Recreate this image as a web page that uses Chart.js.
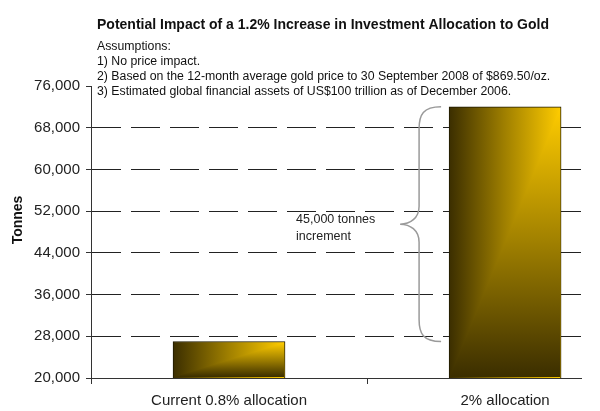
<!DOCTYPE html>
<html>
<head>
<meta charset="utf-8">
<script src="https://cdn.jsdelivr.net/npm/chart.js@4.4.1/dist/chart.umd.min.js"></script>
<style>
    html, body { margin: 0; padding: 0; background: #fff; }
    #wrap { width: 600px; height: 411px; }
</style>
</head>
<body>
<div id="wrap"><canvas id="goldChart"></canvas></div>
<script>
// data
const categories = ["Current 0.8% allocation", "2% allocation"]
const tonnes = [27000, 72000]
const yTicks = [20000, 28000, 36000, 44000, 52000, 60000, 68000, 76000]
const chartTitle = "Potential Impact of a 1.2% Increase in Investment Allocation to Gold"
const assumptions = [
    "Assumptions:",
    "1) No price impact.",
    "2) Based on the 12-month average gold price to 30 September 2008 of $869.50/oz.",
    "3) Estimated global financial assets of US$100 trillion as of December 2006."
]
const braceLabel = ["45,000 tonnes", "increment"]
const yTitle = "Tonnes"

const FONT = '"Liberation Sans", Arial, sans-serif'
const BAR_W = 112
const GOLD = ["#ffcc00", "#a08000", "#3b2e00"]
const NONE = "rgba(0,0,0,0)"

function goldStops(g) {
    g.addColorStop(0, GOLD[0])
    g.addColorStop(0.5, GOLD[1])
    g.addColorStop(1, GOLD[2])
    return g
}

// horizontal part of the corner gradient (bright at the right edge)
function barFill(context) {
    const chart = context.chart
    const xs = chart.scales.x
    if (!xs || context.dataIndex === undefined) return GOLD[1]
    const cx = xs.getPixelForValue(context.dataIndex + 0.5)
    if (!isFinite(cx)) return GOLD[1]
    return goldStops(chart.ctx.createLinearGradient(cx + BAR_W / 2, 0, cx - BAR_W / 2, 0))
}

function tickValue(ctx) {
    return ctx && ctx.tick ? ctx.tick.value : undefined
}

// lower right triangle gets the vertical part, so the fill looks like
// a rectangular gradient running out from the top right corner
const cornerShade = {
    id: "cornerShade",
    afterDatasetsDraw(chart) {
        const { ctx, chartArea } = chart
        chart.getDatasetMeta(0).data.forEach(bar => {
            const left = bar.x - bar.width / 2 + 1
            const right = bar.x + bar.width / 2 - 1
            const top = bar.y + 1
            const bottom = Math.min(bar.base, chartArea.bottom) - 1
            ctx.save()
            ctx.fillStyle = goldStops(ctx.createLinearGradient(0, top, 0, bottom))
            ctx.beginPath()
            ctx.moveTo(right, top)
            ctx.lineTo(right, bottom)
            ctx.lineTo(left, bottom)
            ctx.closePath()
            ctx.fill()
            ctx.restore()
        })
    }
}

const decorations = {
    id: "decorations",
    afterDraw(chart) {
        const { ctx } = chart
        ctx.save()
        ctx.fillStyle = "#111"
        ctx.textAlign = "left"
        ctx.textBaseline = "alphabetic"
        ctx.font = "bold 14px " + FONT
        ctx.fillText(chartTitle, 97, 29)
        ctx.font = "12.3px " + FONT
        assumptions.forEach((line, i) => ctx.fillText(line, 97, 49.5 + i * 15.3))

        // axis title
        ctx.save()
        ctx.translate(18, 220)
        ctx.rotate(-Math.PI / 2)
        ctx.textAlign = "center"
        ctx.textBaseline = "middle"
        ctx.font = "bold 14px " + FONT
        ctx.fillText(yTitle, 0, 0)
        ctx.restore()

        // brace between the two bar tops
        const bars = chart.getDatasetMeta(0).data
        const y0 = bars[1].y
        const y1 = bars[0].y
        const ym = (y0 + y1) / 2
        const barLeft = bars[1].x - bars[1].width / 2
        const ex = barLeft - 8
        const sx = barLeft - 30
        const tx = barLeft - 49
        ctx.strokeStyle = "#9a9a9a"
        ctx.lineWidth = 1.5
        ctx.beginPath()
        ctx.moveTo(ex, y0)
        ctx.bezierCurveTo(sx + 4, y0, sx, y0 + 8, sx, y0 + 22)
        ctx.lineTo(sx, ym - 18)
        ctx.bezierCurveTo(sx, ym - 6, tx + 10, ym, tx, ym)
        ctx.bezierCurveTo(tx + 10, ym, sx, ym + 6, sx, ym + 18)
        ctx.lineTo(sx, y1 - 22)
        ctx.bezierCurveTo(sx, y1 - 8, sx + 4, y1, ex, y1)
        ctx.stroke()

        ctx.fillStyle = "#222"
        ctx.font = "12.5px " + FONT
        ctx.fillText(braceLabel[0], tx - 104, ym - 1)
        ctx.fillText(braceLabel[1], tx - 104, ym + 16)
        ctx.restore()
    }
}

new Chart(document.getElementById("goldChart"), {
    type: "bar",
    data: {
        datasets: [
            {
                label: "Tonnes",
                data: tonnes.map((v, i) => ({ x: i + 0.5, y: v })),
                backgroundColor: barFill,
                borderColor: "#1e1800",
                borderWidth: 1,
                barThickness: BAR_W
            }
        ]
    },
    options: {
        responsive: true,
        maintainAspectRatio: false,
        animation: false,
        layout: { padding: { top: 86, right: 19, left: 0, bottom: 0 } },
        plugins: {
            legend: { display: false },
            title: { display: false },
            tooltip: { enabled: false }
        },
        scales: {
            x: {
                type: "linear",
                offset: false,
                min: 0,
                max: 1.775,
                afterBuildTicks: scale => {
                    scale.ticks = [0, 0.5, 1, 1.5].map(v => ({ value: v }))
                },
                afterFit: scale => { scale.height = 33 },
                ticks: {
                    autoSkip: false,
                    maxRotation: 0,
                    padding: 8,
                    color: "#222",
                    font: { family: FONT, size: 15 },
                    callback: value => Number.isInteger(value) ? "" : categories[Math.floor(value)]
                },
                grid: {
                    offset: false,
                    drawOnChartArea: false,
                    tickLength: 6,
                    tickColor: ctx => {
                        const v = tickValue(ctx)
                        return v !== undefined && Number.isInteger(v) ? "#333" : NONE
                    }
                },
                border: { color: "#333", width: 1 }
            },
            y: {
                min: yTicks[0],
                max: yTicks[yTicks.length - 1],
                afterBuildTicks: scale => {
                    scale.ticks = yTicks.map(v => ({ value: v }))
                },
                afterFit: scale => { scale.width = 91 },
                ticks: {
                    padding: 6,
                    color: "#222",
                    font: { family: FONT, size: 15 },
                    callback: value => value.toLocaleString("en-US")
                },
                grid: {
                    tickLength: 5,
                    tickColor: "#333",
                    color: ctx => {
                        const v = tickValue(ctx)
                        return v === undefined || v === yTicks[0] || v === yTicks[yTicks.length - 1] ? NONE : "#222"
                    }
                },
                border: { color: "#333", width: 1, dash: [29, 10] }
            }
        }
    },
    plugins: [cornerShade, decorations]
})
</script>
</body>
</html>
